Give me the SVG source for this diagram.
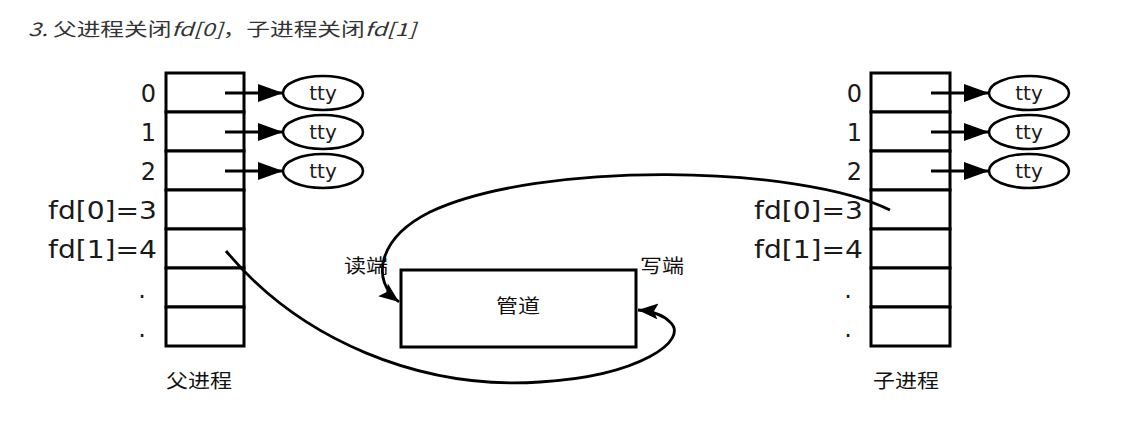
<svg xmlns="http://www.w3.org/2000/svg" width="1135" height="423" viewBox="0 0 1135 423">
<style>
.cell{fill:#fff;stroke:#000;stroke-width:3}
.lbl{font-family:"DejaVu Sans","Liberation Sans",sans-serif;font-size:24px;fill:#1a1a1a}
.tty{fill:#fff;stroke:#000;stroke-width:2.5}
.ttyt{font-family:"DejaVu Sans","Liberation Sans",sans-serif;font-size:20px;fill:#1a1a1a;text-anchor:middle}
.cjk{font-family:"Noto Sans CJK SC","DejaVu Sans",sans-serif;font-size:19px;fill:#111}
.ln{fill:none;stroke:#000;stroke-width:2.8}
</style>
<defs>
<marker id="ah" markerUnits="userSpaceOnUse" markerWidth="26" markerHeight="20" refX="25" refY="9" orient="auto">
<path d="M0,0 L25,9 L0,18 Z" fill="#000"/>
</marker>
<marker id="ah2" markerUnits="userSpaceOnUse" markerWidth="22" markerHeight="18" refX="20" refY="8" orient="auto">
<path d="M0,0 L20,8 L0,16 L4,8 Z" fill="#000"/>
</marker>
</defs>
<rect width="1135" height="423" fill="#fff"/>
<text x="28" y="36" style="font-family:'Noto Sans CJK SC','DejaVu Sans',sans-serif;font-size:18px;fill:#333" textLength="388" lengthAdjust="spacingAndGlyphs"><tspan font-style="italic">3. </tspan>父进程关闭<tspan font-style="italic">fd[0]</tspan>，子进程关闭<tspan font-style="italic">fd[1]</tspan></text>

<g id="parent">
<rect class="cell" x="166" y="73" width="78" height="39"/>
<rect class="cell" x="166" y="112" width="78" height="39"/>
<rect class="cell" x="166" y="151" width="78" height="39"/>
<rect class="cell" x="166" y="190" width="78" height="39"/>
<rect class="cell" x="166" y="229" width="78" height="39"/>
<rect class="cell" x="166" y="268" width="78" height="39"/>
<rect class="cell" x="166" y="307" width="78" height="39"/>
<text class="lbl" x="156" y="102" text-anchor="end">0</text>
<text class="lbl" x="156" y="141" text-anchor="end">1</text>
<text class="lbl" x="156" y="180" text-anchor="end">2</text>
<text class="lbl" x="157" y="219" text-anchor="end" textLength="109" lengthAdjust="spacingAndGlyphs">fd[0]=3</text>
<text class="lbl" x="157" y="258" text-anchor="end" textLength="109" lengthAdjust="spacingAndGlyphs">fd[1]=4</text>
<text class="lbl" x="146" y="298" text-anchor="end">.</text>
<text class="lbl" x="146" y="337" text-anchor="end">.</text>
<text class="cjk" x="166" y="388" textLength="66" lengthAdjust="spacingAndGlyphs">父进程</text>
</g>

<g id="parent-tty">
<ellipse class="tty" cx="323" cy="93" rx="40" ry="17"/>
<ellipse class="tty" cx="323" cy="132" rx="40" ry="17"/>
<ellipse class="tty" cx="323" cy="171" rx="40" ry="17"/>
<text class="ttyt" x="323" y="100">tty</text>
<text class="ttyt" x="323" y="139">tty</text>
<text class="ttyt" x="323" y="178">tty</text>
</g>

<g id="child">
<rect class="cell" x="871" y="73" width="79" height="39"/>
<rect class="cell" x="871" y="112" width="79" height="39"/>
<rect class="cell" x="871" y="151" width="79" height="39"/>
<rect class="cell" x="871" y="190" width="79" height="39"/>
<rect class="cell" x="871" y="229" width="79" height="39"/>
<rect class="cell" x="871" y="268" width="79" height="39"/>
<rect class="cell" x="871" y="307" width="79" height="39"/>
<text class="lbl" x="862" y="102" text-anchor="end">0</text>
<text class="lbl" x="862" y="141" text-anchor="end">1</text>
<text class="lbl" x="862" y="180" text-anchor="end">2</text>
<text class="lbl" x="863" y="219" text-anchor="end" textLength="109" lengthAdjust="spacingAndGlyphs">fd[0]=3</text>
<text class="lbl" x="863" y="258" text-anchor="end" textLength="109" lengthAdjust="spacingAndGlyphs">fd[1]=4</text>
<text class="lbl" x="852" y="298" text-anchor="end">.</text>
<text class="lbl" x="852" y="337" text-anchor="end">.</text>
<text class="cjk" x="873" y="388" textLength="66" lengthAdjust="spacingAndGlyphs">子进程</text>
</g>

<g id="child-tty">
<ellipse class="tty" cx="1029" cy="93" rx="40" ry="17"/>
<ellipse class="tty" cx="1029" cy="132" rx="40" ry="17"/>
<ellipse class="tty" cx="1029" cy="171" rx="40" ry="17"/>
<text class="ttyt" x="1029" y="100">tty</text>
<text class="ttyt" x="1029" y="139">tty</text>
<text class="ttyt" x="1029" y="178">tty</text>
</g>

<g id="pipe">
<rect x="401" y="270" width="235" height="77" fill="#fff" stroke="#000" stroke-width="3"/>
<text class="cjk" x="518" y="313" text-anchor="middle" textLength="44" lengthAdjust="spacingAndGlyphs">管道</text>
<text class="cjk" x="344" y="273" textLength="44" lengthAdjust="spacingAndGlyphs">读端</text>
<text class="cjk" x="640" y="273" textLength="44" lengthAdjust="spacingAndGlyphs">写端</text>
</g>

<g id="connectors">
<line class="ln" x1="225" y1="93" x2="283" y2="93" marker-end="url(#ah)"/>
<line class="ln" x1="225" y1="132" x2="283" y2="132" marker-end="url(#ah)"/>
<line class="ln" x1="225" y1="171" x2="283" y2="171" marker-end="url(#ah)"/>
<line class="ln" x1="931" y1="93" x2="989" y2="93" marker-end="url(#ah)"/>
<line class="ln" x1="931" y1="132" x2="989" y2="132" marker-end="url(#ah)"/>
<line class="ln" x1="931" y1="171" x2="989" y2="171" marker-end="url(#ah)"/>
<path class="ln" d="M890,210 C800,165 540,160 430,212 C378,238 370,280 399,302" marker-end="url(#ah2)"/>
<path class="ln" d="M226,251 C300,340 420,390 540,382 C640,376 690,340 670,322 C662,314 652,311 638,310" marker-end="url(#ah2)"/>
</g>
</svg>
